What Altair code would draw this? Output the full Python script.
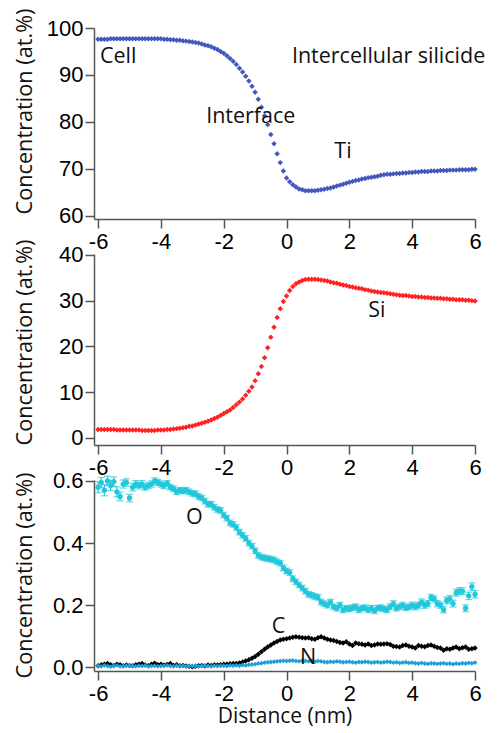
import altair as alt
import pandas as pd

X = [round(-6 + 0.1 * i, 1) for i in range(121)]

TI = [97.6, 97.6, 97.6, 97.6, 97.7, 97.7, 97.7, 97.7, 97.7, 97.7,
      97.7, 97.7, 97.7, 97.7, 97.7, 97.7, 97.7, 97.7, 97.7, 97.7,
      97.7, 97.6, 97.6, 97.5, 97.5, 97.4, 97.4, 97.3, 97.2, 97.1,
      97.0, 96.9, 96.8, 96.6, 96.4, 96.2, 96.0, 95.7, 95.4, 95.0,
      94.6, 94.1, 93.5, 92.9, 92.2, 91.4, 90.6, 89.7, 88.7, 87.6,
      86.3, 84.8, 83.1, 81.3, 79.4, 77.3, 75.3, 73.2, 71.3, 69.5,
      68.0, 67.2, 66.6, 66.1, 65.7, 65.5, 65.3, 65.3, 65.3, 65.3,
      65.4, 65.5, 65.6, 65.8, 65.9, 66.1, 66.3, 66.5, 66.7, 66.9,
      67.1, 67.3, 67.5, 67.6, 67.8, 67.9, 68.1, 68.2, 68.3, 68.4,
      68.6, 68.7, 68.8, 68.8, 68.9, 69.0, 69.0, 69.1, 69.1, 69.2,
      69.2, 69.3, 69.3, 69.4, 69.4, 69.4, 69.5, 69.5, 69.5, 69.6,
      69.6, 69.6, 69.7, 69.7, 69.7, 69.8, 69.8, 69.8, 69.8, 69.9,
      69.9]

SI = [1.8, 1.8, 1.8, 1.8, 1.8, 1.8, 1.7, 1.7, 1.7, 1.7,
      1.7, 1.7, 1.7, 1.7, 1.6, 1.6, 1.6, 1.6, 1.6, 1.7,
      1.7, 1.7, 1.8, 1.8, 1.9, 2.0, 2.1, 2.2, 2.3, 2.5,
      2.6, 2.8, 3.0, 3.2, 3.4, 3.6, 3.9, 4.2, 4.5, 4.9,
      5.3, 5.7, 6.1, 6.6, 7.2, 7.8, 8.5, 9.3, 10.2, 11.1,
      12.5, 14.0, 15.6, 17.5, 19.7, 22.0, 24.2, 26.3, 28.2, 29.8,
      31.0, 32.2, 33.1, 33.7, 34.1, 34.4, 34.6, 34.7, 34.7, 34.7,
      34.6, 34.5, 34.4, 34.3, 34.1, 33.9, 33.8, 33.6, 33.4, 33.3,
      33.1, 33.0, 32.8, 32.7, 32.6, 32.4, 32.3, 32.1, 32.0, 31.9,
      31.8, 31.7, 31.6, 31.5, 31.4, 31.3, 31.2, 31.1, 31.1, 31.0,
      30.9, 30.9, 30.8, 30.8, 30.7, 30.7, 30.6, 30.6, 30.5, 30.5,
      30.4, 30.4, 30.3, 30.3, 30.2, 30.2, 30.2, 30.1, 30.1, 30.0,
      29.9]

O = [0.58, 0.595, 0.57, 0.60, 0.585, 0.598, 0.565, 0.55, 0.59, 0.595,
     0.545, 0.58, 0.59, 0.585, 0.59, 0.58, 0.585, 0.59, 0.60, 0.595,
     0.59, 0.585, 0.592, 0.58, 0.575, 0.565, 0.57, 0.568, 0.57, 0.565,
     0.56, 0.558, 0.55, 0.545, 0.535, 0.525, 0.525, 0.515, 0.508, 0.505,
     0.49, 0.48, 0.465, 0.46, 0.45, 0.435, 0.425, 0.415, 0.40, 0.39,
     0.375, 0.36, 0.355, 0.352, 0.35, 0.348, 0.345, 0.34, 0.335, 0.32,
     0.31, 0.305, 0.285, 0.275, 0.265, 0.255, 0.245, 0.235, 0.232, 0.228,
     0.225, 0.21, 0.205, 0.20, 0.21, 0.195, 0.19, 0.20, 0.185, 0.19,
     0.188, 0.192, 0.195, 0.185, 0.19, 0.192, 0.185, 0.19, 0.182, 0.19,
     0.192, 0.188, 0.185, 0.195, 0.205, 0.19, 0.195, 0.20, 0.192, 0.195,
     0.20, 0.195, 0.20, 0.21, 0.20, 0.205, 0.225, 0.22, 0.205, 0.20,
     0.185, 0.215, 0.22, 0.205, 0.24, 0.245, 0.245, 0.19, 0.23, 0.26,
     0.235]

O_ERR = [0.018, 0.016, 0.018, 0.015, 0.016, 0.015, 0.016, 0.014, 0.013, 0.012,
         0.012, 0.012, 0.011, 0.011, 0.011, 0.010, 0.010, 0.010, 0.010, 0.010,
         0.010, 0.010, 0.009, 0.009, 0.009, 0.009, 0.009, 0.009, 0.009, 0.009,
         0.009, 0.009, 0.009, 0.009, 0.009, 0.009, 0.009, 0.009, 0.009, 0.009,
         0.009, 0.009, 0.009, 0.009, 0.009, 0.009, 0.009, 0.009, 0.009, 0.009,
         0.009, 0.009, 0.009, 0.009, 0.009, 0.009, 0.009, 0.009, 0.009, 0.009,
         0.009, 0.009, 0.009, 0.009, 0.009, 0.009, 0.009, 0.009, 0.009, 0.009,
         0.009, 0.009, 0.009, 0.009, 0.009, 0.009, 0.009, 0.009, 0.009, 0.009,
         0.009, 0.009, 0.009, 0.009, 0.009, 0.009, 0.009, 0.009, 0.009, 0.009,
         0.009, 0.009, 0.009, 0.009, 0.009, 0.009, 0.009, 0.009, 0.009, 0.009,
         0.010, 0.010, 0.010, 0.010, 0.010, 0.010, 0.010, 0.010, 0.010, 0.010,
         0.010, 0.011, 0.011, 0.011, 0.011, 0.011, 0.011, 0.011, 0.012, 0.012,
         0.012]

C = [0.005, 0.008, 0.010, 0.012, 0.008, 0.006, 0.010, 0.008, 0.005, 0.007,
     0.006, 0.005, 0.008, 0.010, 0.012, 0.007, 0.005, 0.010, 0.013, 0.008,
     0.010, 0.007, 0.009, 0.012, 0.006, 0.008, 0.005, 0.006, 0.004, 0.003,
     0.002, 0.003, 0.005, 0.006, 0.004, 0.007, 0.006, 0.008, 0.007, 0.008,
     0.010, 0.010, 0.011, 0.012, 0.012, 0.014, 0.017, 0.020, 0.024, 0.029,
     0.035, 0.042, 0.050, 0.058, 0.065, 0.072, 0.078, 0.083, 0.088, 0.090,
     0.092, 0.094, 0.097, 0.098, 0.097, 0.095, 0.094, 0.095, 0.092, 0.090,
     0.095, 0.098, 0.094, 0.090, 0.088, 0.086, 0.083, 0.080, 0.078, 0.082,
     0.075, 0.070, 0.078, 0.076, 0.074, 0.072, 0.075, 0.070, 0.072, 0.075,
     0.074, 0.075, 0.076, 0.073, 0.068, 0.067, 0.065, 0.070, 0.072, 0.068,
     0.065, 0.062, 0.070, 0.068, 0.066, 0.070, 0.072, 0.068, 0.064, 0.062,
     0.055, 0.060, 0.058, 0.062, 0.065, 0.060, 0.063, 0.065, 0.058, 0.060,
     0.062]

N = [0.005, 0.003, 0.006, 0.004, 0.002, 0.005, 0.006, 0.003, 0.004, 0.005,
     0.006, 0.004, 0.003, 0.005, 0.004, 0.006, 0.003, 0.004, 0.005, 0.003,
     0.004, 0.005, 0.006, 0.004, 0.003, 0.005, 0.004, 0.005, 0.003, 0.004,
     0.004, 0.005, 0.003, 0.004, 0.005, 0.004, 0.003, 0.005, 0.004, 0.005,
     0.005, 0.004, 0.006, 0.005, 0.006, 0.005, 0.007, 0.006, 0.008, 0.009,
     0.010, 0.012, 0.013, 0.015, 0.016, 0.017, 0.018, 0.019, 0.020, 0.021,
     0.020, 0.021, 0.022, 0.020, 0.019, 0.021, 0.020, 0.019, 0.020, 0.018,
     0.020, 0.019, 0.017, 0.016, 0.018, 0.017, 0.019, 0.018, 0.016, 0.017,
     0.018, 0.016, 0.015, 0.017, 0.016, 0.018, 0.017, 0.015, 0.016, 0.017,
     0.015, 0.016, 0.018, 0.017, 0.015, 0.016, 0.014, 0.015, 0.016, 0.014,
     0.015, 0.013, 0.012, 0.014, 0.012, 0.011, 0.013, 0.012, 0.011, 0.012,
     0.013, 0.011, 0.012, 0.010, 0.012, 0.011, 0.013, 0.012, 0.014, 0.013,
     0.015]

X_TICKS = [-6, -4, -2, 0, 2, 4, 6]
TI_TICKS = [60, 70, 80, 90, 100]
SI_TICKS = [0, 10, 20, 30, 40]
LOW_TICKS = [0.0, 0.1, 0.2, 0.3, 0.4, 0.5, 0.6]

LABELS_TOP = ["Cell", "Intercellular silicide", "Interface", "Ti"]
LABELS_TOP_X = [-5.94, 0.17, -2.56, 1.52]
LABELS_TOP_Y = [93.8, 93.8, 81.1, 73.6]
LABELS_MID = ["Si"]
LABELS_MID_X = [2.6]
LABELS_MID_Y = [27.7]
LABELS_LOW = ["O", "C", "N"]
LABELS_LOW_X = [-3.2, -0.47, 0.43]
LABELS_LOW_Y = [0.48, 0.13, 0.03]

TEXT_FONT = "Open Sans"
NUM_FONT = "Liberation Sans"
W = 381
H = 191
XDOM = [-6.13, 6.0]

df = pd.DataFrame({"x": X, "ti": TI, "si": SI, "o": O, "c": C, "n": N})
df["o_lo"] = [v - e for v, e in zip(O, O_ERR)]
df["o_hi"] = [v + e for v, e in zip(O, O_ERR)]

XSC = alt.Scale(domain=XDOM, nice=False, zero=False)


def xenc(last):
    return alt.X(
        "x:Q",
        scale=XSC,
        axis=alt.Axis(values=X_TICKS, labelExpr="'' + datum.value"),
        title="Distance (nm)" if last else None,
    )


def yaxis(ticks, ty, fmt=None):
    kw = dict(values=ticks, titleX=-70, titleY=ty, titleBaseline="middle", titleAlign="center",
              titleFontSize=21.7)
    if fmt:
        kw["format"] = fmt
    return alt.Axis(**kw)


def text_layer(names, xs, ys, ydom):
    t = pd.DataFrame({"label": names, "x": xs, "y": ys})
    return alt.Chart(t).mark_text(
        font=TEXT_FONT, fontSize=21.5, align="left", baseline="middle", color="#111"
    ).encode(
        x=alt.X("x:Q", scale=XSC),
        y=alt.Y("y:Q", scale=alt.Scale(domain=ydom, nice=False, zero=False)),
        text="label:N",
    )


base = alt.Chart(df)

# Panel 1: Ti
ti_dom = [59.28, 100.0]
p1 = alt.layer(
    base.mark_point(shape="diamond", filled=True, size=30, color="#4457BC", opacity=1).encode(
        x=xenc(False),
        y=alt.Y("ti:Q", scale=alt.Scale(domain=ti_dom, nice=False, zero=False),
                axis=yaxis(TI_TICKS, 83), title="Concentration (at.%)"),
    ),
    text_layer(LABELS_TOP, LABELS_TOP_X, LABELS_TOP_Y, ti_dom),
).properties(width=W, height=H)

# Panel 2: Si
si_dom = [-1.58, 40.2]
p2 = alt.layer(
    base.mark_point(shape="diamond", filled=True, size=30, color="#FF2222", opacity=1).encode(
        x=xenc(False),
        y=alt.Y("si:Q", scale=alt.Scale(domain=si_dom, nice=False, zero=False),
                axis=yaxis(SI_TICKS, 88), title="Concentration (at.%)"),
    ),
    text_layer(LABELS_MID, LABELS_MID_X, LABELS_MID_Y, si_dom),
).properties(width=W, height=H)

# Panel 3: O, C, N
low_dom = [-0.012, 0.603]
ysc = alt.Scale(domain=low_dom, nice=False, zero=False)
c_layer = base.mark_point(shape="diamond", filled=True, size=30, color="#000000", opacity=1).encode(
    x=xenc(True),
    y=alt.Y("c:Q", scale=ysc, axis=yaxis(LOW_TICKS, 95, ".1f"), title="Concentration (at.%)"),
)
n_layer = base.mark_point(shape="diamond", filled=True, size=24, color="#1E9FD9", opacity=1).encode(
    x=alt.X("x:Q", scale=XSC),
    y=alt.Y("n:Q", scale=ysc),
)
o_bar = base.mark_rule(color="#22C7DC", strokeWidth=1.2).encode(
    x=alt.X("x:Q", scale=XSC),
    y=alt.Y("o_lo:Q", scale=ysc),
    y2="o_hi:Q",
)
o_cap_lo = base.mark_tick(color="#22C7DC", orient="horizontal", size=7, thickness=1.2).encode(
    x=alt.X("x:Q", scale=XSC),
    y=alt.Y("o_lo:Q", scale=ysc),
)
o_cap_hi = base.mark_tick(color="#22C7DC", orient="horizontal", size=7, thickness=1.2).encode(
    x=alt.X("x:Q", scale=XSC),
    y=alt.Y("o_hi:Q", scale=ysc),
)
o_pts = base.mark_point(shape="circle", filled=True, size=28, color="#22C7DC", opacity=1).encode(
    x=alt.X("x:Q", scale=XSC),
    y=alt.Y("o:Q", scale=ysc),
)
p3 = alt.layer(
    c_layer, n_layer, o_bar, o_cap_lo, o_cap_hi, o_pts,
    text_layer(LABELS_LOW, LABELS_LOW_X, LABELS_LOW_Y, low_dom),
).properties(width=W, height=H)

chart = alt.vconcat(p1, p2, p3, spacing=35, bounds="flush").properties(
    padding={"left": 5, "top": 0, "right": 0, "bottom": 2}
).configure_view(stroke=None).configure_axis(
    grid=False,
    domainColor="#555555",
    domainWidth=1.5,
    tickColor="#555555",
    tickWidth=1.5,
    tickSize=9,
    labelFont=NUM_FONT,
    labelFontSize=22,
    labelColor="#000000",
    labelPadding=2,
    titleFont=TEXT_FONT,
    titleFontSize=21,
    titleFontWeight="normal",
    titleColor="#111111",
).configure_axisX(labelFlush=False, labelPadding=3, titlePadding=1)

chart.save("out.html", embed_options={"renderer": "svg", "actions": False})
